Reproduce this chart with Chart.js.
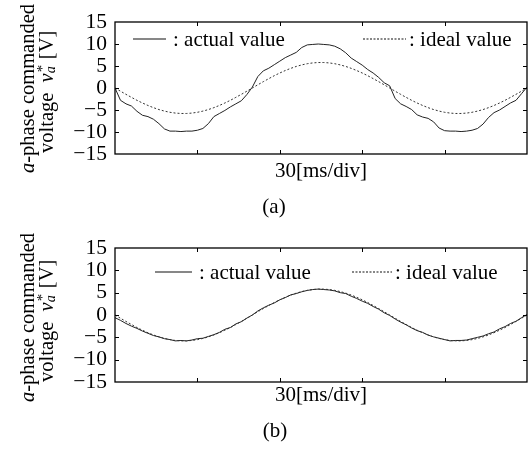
<!DOCTYPE html>
<html>
<head>
<meta charset="utf-8">
<script src="https://cdn.jsdelivr.net/npm/chart.js@4.4.1/dist/chart.umd.min.js"></script>
<style>
  html, body { margin: 0; padding: 0; background: #fff; }
  #wrap { width: 530px; height: 450px; position: relative; }
  canvas { display: block; }
</style>
</head>
<body>
<div id="wrap">
  <canvas id="chartA" width="530" height="225"></canvas>
  <canvas id="chartB" width="530" height="225"></canvas>
</div>
<script>
// time axis [ms], sampled every 2 ms over 5 divisions of 30 ms
var timeMs = [0, 2, 4, 6, 8, 10, 12, 14, 16, 18, 20, 22, 24, 26, 28, 30, 32, 34, 36, 38, 40, 42, 44, 46, 48, 50,
  52, 54, 56, 58, 60, 62, 64, 66, 68, 70, 72, 74, 76, 78, 80, 82, 84, 86, 88, 90, 92, 94, 96, 98, 100,
  102, 104, 106, 108, 110, 112, 114, 116, 118, 120, 122, 124, 126, 128, 130, 132, 134, 136, 138, 140, 142, 144, 146, 148, 150];

// (a) actual value
var actualA = [0, -2.8, -3.6, -4.1, -5.3, -6.2, -6.5, -7.1, -8.1, -9.3, -9.8, -9.8, -9.9, -9.8, -9.8, -9.6, -9.2, -8.1, -6.5, -5.8, -5.1, -4.3, -3.6, -2.9, -1.5, 0.2,
  2.6, 3.9, 4.5, 5.3, 6.1, 6.9, 7.5, 8.1, 9.2, 9.8, 9.9, 10.0, 9.9, 9.8, 9.5, 8.9, 8.0, 6.8, 6.0, 5.2, 4.2, 3.4, 2.4, 1.2, 0.5,
  -2.4, -3.6, -4.2, -4.9, -6.1, -6.6, -6.9, -7.7, -9.1, -9.7, -9.8, -9.8, -9.9, -9.8, -9.6, -9.2, -8.2, -6.7, -5.6, -5.0, -4.2, -3.4, -2.8, -1.3, 0.2];

// (b) actual value
var actualB = [-0.6, -1.2, -1.9, -2.5, -3.0, -3.6, -4.1, -4.6, -4.9, -5.3, -5.5, -5.8, -5.7, -5.8, -5.6, -5.3, -5.2, -4.8, -4.4, -3.9, -3.2, -2.8, -2.0, -1.5, -0.7, 0.0,
  0.9, 1.6, 2.2, 2.7, 3.4, 3.9, 4.5, 4.8, 5.2, 5.5, 5.7, 5.8, 5.7, 5.6, 5.4, 5.0, 4.8, 4.2, 3.7, 3.1, 2.6, 1.9, 1.3, 0.5, -0.1,
  -0.9, -1.6, -2.2, -2.9, -3.5, -3.9, -4.5, -4.9, -5.2, -5.5, -5.8, -5.7, -5.7, -5.6, -5.3, -5.0, -4.7, -4.2, -3.8, -3.1, -2.6, -1.9, -1.4, -0.6, 0.1];

// ideal value (same reference in both panels)
var idealValue = [0, -0.73, -1.44, -2.13, -2.80, -3.41, -3.97, -4.47, -4.90, -5.25, -5.52, -5.70, -5.79, -5.79, -5.70, -5.52, -5.25, -4.90, -4.47, -3.97, -3.41, -2.80, -2.13, -1.44, -0.73, 0,
  0.73, 1.44, 2.13, 2.80, 3.41, 3.97, 4.47, 4.90, 5.25, 5.52, 5.70, 5.79, 5.79, 5.70, 5.52, 5.25, 4.90, 4.47, 3.97, 3.41, 2.80, 2.13, 1.44, 0.73, 0,
  -0.73, -1.44, -2.13, -2.80, -3.41, -3.97, -4.47, -4.90, -5.25, -5.52, -5.70, -5.79, -5.79, -5.70, -5.52, -5.25, -4.90, -4.47, -3.97, -3.41, -2.80, -2.13, -1.44, -0.73, 0];

var yTicks = [-15, -10, -5, 0, 5, 10, 15];
var xLabel = '30[ms/div]';
var seriesNames = [': actual value', ': ideal value'];

var SERIF = "'Liberation Serif', 'Times New Roman', serif";

function toPoints(ys) {
    var pts = [];
    for (var i = 0; i < timeMs.length; i++) pts.push({ x: timeMs[i], y: ys[i] });
    return pts;
}

function font(size, italic) {
    return (italic ? 'italic ' : '') + size + 'px ' + SERIF;
}

// draws a run of text pieces along +x from (x, y)
function drawRun(ctx, parts, x, y) {
    parts.forEach(function (p) {
        ctx.font = font(p.size || 20.5, p.italic);
        ctx.fillText(p.t, x, y + (p.dy || 0));
        var w = ctx.measureText(p.t).width;
        if (p.sup) {
            ctx.font = font(p.sup.size, false);
            ctx.fillText(p.sup.t, x + (p.sup.dx || 0), y + p.sup.dy);
        }
        x += w + (p.after || 0);
    });
}

var decorPlugin = {
    id: 'decor',
    afterDraw: function (chart, args, o) {
        var ctx = chart.ctx;
        var a = chart.chartArea;
        var xs = chart.scales.x, ys = chart.scales.y;
        ctx.save();
        ctx.strokeStyle = '#000';
        ctx.fillStyle = '#000';

        // inner ticks on all four sides
        ctx.lineWidth = 1;
        ctx.beginPath();
        [30, 60, 90, 120].forEach(function (v) {
            var px = Math.round(xs.getPixelForValue(v)) + 0.5;
            ctx.moveTo(px, a.top); ctx.lineTo(px, a.top + 4);
            ctx.moveTo(px, a.bottom); ctx.lineTo(px, a.bottom - 4);
        });
        yTicks.slice(1, -1).forEach(function (v) {
            var py = Math.round(ys.getPixelForValue(v)) + 0.5;
            ctx.moveTo(a.left, py); ctx.lineTo(a.left + 4, py);
            ctx.moveTo(a.right, py); ctx.lineTo(a.right - 4, py);
        });
        ctx.stroke();

        // frame
        ctx.lineWidth = 1.3;
        ctx.strokeRect(a.left, a.top, a.right - a.left, a.bottom - a.top);

        // legend
        ctx.textBaseline = 'alphabetic';
        ctx.textAlign = 'left';
        ctx.lineWidth = 1.2;
        ctx.strokeStyle = '#111';
        ctx.setLineDash([]);
        ctx.beginPath();
        ctx.moveTo(o.leg1[0], o.legY); ctx.lineTo(o.leg1[1], o.legY);
        ctx.stroke();
        ctx.setLineDash([2, 1.5]);
        ctx.beginPath();
        ctx.moveTo(o.leg2[0], o.legY); ctx.lineTo(o.leg2[1], o.legY);
        ctx.stroke();
        ctx.setLineDash([]);
        ctx.font = font(21);
        ctx.fillText(seriesNames[0], o.leg1[1] + 7, o.legY + 7);
        ctx.fillText(seriesNames[1], o.leg2[1] + 3, o.legY + 7);

        // x axis label and panel tag
        ctx.textAlign = 'center';
        ctx.fillText(xLabel, (a.left + a.right) / 2, o.xLabelY);
        ctx.fillText(o.tag, o.tagX, o.tagY);

        // y axis title, two rotated lines
        ctx.textAlign = 'left';
        ctx.save();
        ctx.translate(o.title1[0], o.title1[1]);
        ctx.rotate(-Math.PI / 2);
        drawRun(ctx, [{ t: 'a', italic: true }, { t: '-phase commanded' }], 0, 0);
        ctx.restore();
        ctx.save();
        ctx.translate(o.title2[0], o.title2[1]);
        ctx.rotate(-Math.PI / 2);
        drawRun(ctx, [
            { t: 'voltage  ' },
            { t: 'v', italic: true },
            { t: 'a', italic: true, size: 14, dy: 2, sup: { t: '*', size: 15, dy: -6, dx: 1 }, after: 2 },
            { t: ' [V]' }
        ], 0, 0);
        ctx.restore();

        ctx.restore();
    }
};

function makeChart(id, actual, opts) {
    var ctx = document.getElementById(id).getContext('2d');
    return new Chart(ctx, {
        type: 'line',
        data: {
            datasets: [{
                label: 'ideal value',
                data: toPoints(idealValue),
                borderColor: '#333',
                borderWidth: 1,
                borderDash: [2, 2],
                pointRadius: 0,
                tension: 0
            }, {
                label: 'actual value',
                data: toPoints(actual),
                borderColor: '#222',
                borderWidth: 1,
                pointRadius: 0,
                tension: 0
            }]
        },
        options: {
            responsive: false,
            animation: false,
            devicePixelRatio: 1,
            layout: { padding: { left: 0, right: 3, top: opts.top, bottom: opts.bottom } },
            plugins: {
                legend: { display: false },
                tooltip: { enabled: false },
                decor: opts
            },
            scales: {
                x: {
                    type: 'linear',
                    min: 0,
                    max: 150,
                    display: false
                },
                y: {
                    min: -15,
                    max: 15,
                    afterFit: function (s) { s.width = 115; },
                    afterBuildTicks: function (s) { s.ticks = yTicks.map(function (v) { return { value: v }; }); },
                    grid: { display: false, drawTicks: false },
                    border: { display: false },
                    ticks: {
                        autoSkip: false,
                        padding: 8,
                        color: '#000',
                        font: { family: SERIF, size: 21.5 },
                        callback: function (v) { return String(v).replace('-', '\u2212'); }
                    }
                }
            }
        },
        plugins: [decorPlugin]
    });
}

makeChart('chartA', actualA, {
    top: 22, bottom: 71,
    legY: 39, leg1: [133, 166], leg2: [363, 406],
    xLabelY: 177, tag: '(a)', tagX: 274, tagY: 213,
    title1: [34, 173], title2: [53, 153]
});

makeChart('chartB', actualB, {
    top: 23, bottom: 68,
    legY: 47, leg1: [155, 192], leg2: [352, 392],
    xLabelY: 176, tag: '(b)', tagX: 275, tagY: 212,
    title1: [34, 177], title2: [53, 157]
});
</script>
</body>
</html>
